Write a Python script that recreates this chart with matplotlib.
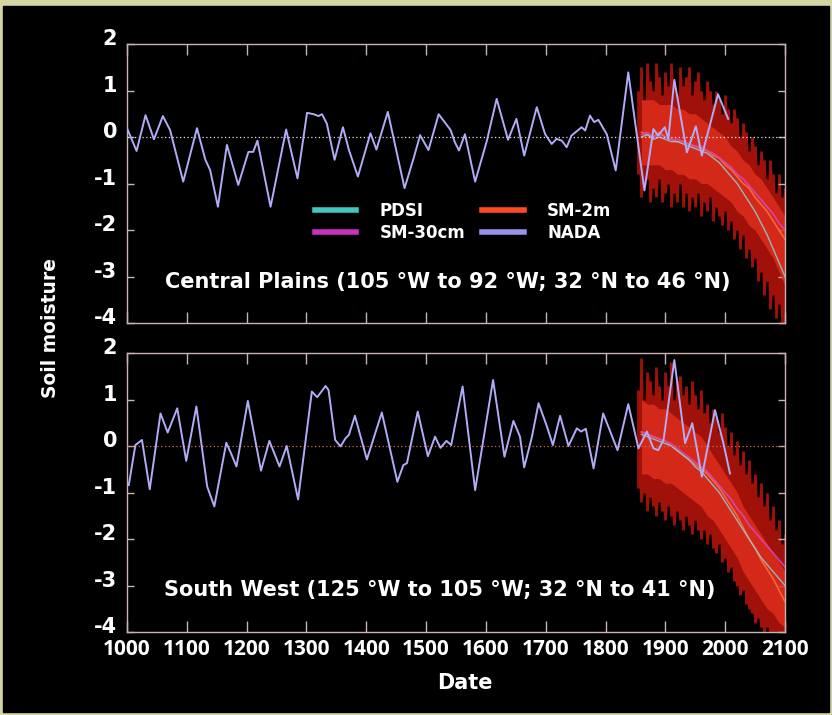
import matplotlib
matplotlib.use("Agg")
import matplotlib.pyplot as plt
from matplotlib.lines import Line2D
from matplotlib.patches import Rectangle
from matplotlib.transforms import ScaledTranslation

plt.rcParams["axes.unicode_minus"] = False

# ---- NADA tree-ring reconstruction, Central Plains ----
cp_nada_years = [1000, 1016, 1031, 1045, 1060, 1072, 1094, 1117, 1131, 1139,
                 1152, 1167, 1186, 1203, 1211, 1218, 1240, 1266, 1285, 1301,
                 1312, 1320, 1326, 1334, 1347, 1361, 1371, 1386, 1407, 1417,
                 1436, 1464, 1480, 1490, 1504, 1521, 1541, 1548, 1555, 1565,
                 1582, 1601, 1618, 1637, 1651, 1664, 1685, 1699, 1710, 1718,
                 1727, 1735, 1743, 1760, 1766, 1774, 1781, 1788, 1802, 1817,
                 1838, 1865, 1880, 1888, 1899, 1905, 1915, 1936, 1951, 1961,
                 1988, 2005]
cp_nada = [0.19, -0.30, 0.47, -0.05, 0.45, 0.15, -0.96, 0.19, -0.49, -0.71,
           -1.50, -0.17, -1.03, -0.32, -0.32, -0.08, -1.50, 0.16, -0.89, 0.52,
           0.49, 0.45, 0.49, 0.29, -0.49, 0.21, -0.28, -0.85, 0.08, -0.27,
           0.54, -1.10, -0.42, 0.04, -0.28, 0.49, 0.15, -0.11, -0.29, 0.06,
           -0.96, -0.11, 0.82, -0.06, 0.39, -0.40, 0.64, 0.06, -0.15, -0.04,
           -0.08, -0.22, 0.03, 0.21, 0.14, 0.46, 0.32, 0.37, 0.06, -0.72,
           1.39, -1.15, 0.17, 0.03, 0.21, -0.04, 1.23, -0.33, 0.23, -0.40,
           0.92, 0.39]

# ---- NADA, South West ----
sw_nada_years = [1003, 1014, 1025, 1038, 1056, 1068, 1084, 1099, 1116, 1134,
                 1146, 1166, 1174, 1183, 1202, 1224, 1238, 1255, 1267, 1286,
                 1309, 1318, 1332, 1337, 1348, 1357, 1365, 1371, 1381, 1401,
                 1426, 1452, 1462, 1468, 1486, 1503, 1515, 1524, 1534, 1542,
                 1548, 1561, 1582, 1612, 1631, 1646, 1657, 1664, 1677, 1688,
                 1702, 1712, 1724, 1738, 1752, 1759, 1767, 1780, 1796, 1820,
                 1838, 1855, 1869, 1880, 1888, 1897, 1915, 1933, 1945, 1961,
                 1983, 1997, 2008]
sw_nada = [-0.84, 0.02, 0.13, -0.93, 0.70, 0.29, 0.81, -0.32, 0.85, -0.87,
           -1.30, 0.07, -0.16, -0.44, 0.97, -0.53, 0.11, -0.44, 0.0, -1.15,
           1.17, 1.05, 1.29, 1.20, 0.13, -0.01, 0.16, 0.24, 0.65, -0.29,
           0.72, -0.77, -0.41, -0.37, 0.74, -0.22, 0.20, -0.04, 0.11, 0.02,
           0.42, 1.28, -0.95, 1.42, -0.23, 0.54, 0.20, -0.46, 0.20, 0.92,
           0.42, 0.02, 0.65, 0.0, 0.38, 0.31, 0.37, -0.48, 0.70, -0.09,
           0.90, -0.05, 0.31, -0.05, -0.09, 0.13, 1.85, 0.06, 0.49, -0.66,
           0.77, 0.06, -0.59]

# ---- model ensemble spread (SM-2m), 5-year steps 1855-2100 ----
model_years = list(range(1855, 2101, 5))
cp_spread_hi = [1.0, 1.5, 0.8, 1.6, 1.2, 1.0, 1.6, 1.3, 0.9, 1.4,
                1.1, 1.6, 1.2, 0.9, 1.5, 1.1, 1.3, 1.5, 0.9, 1.2,
                1.4, 1.0, 0.8, 1.2, 1.0, 0.7, 1.0, 0.8, 0.5, 0.9,
                0.6, 0.3, 0.6, 0.4, 0.0, 0.3, 0.1, -0.3, 0.0, -0.2,
                -0.6, -0.3, -0.5, -0.9, -0.5, -0.8, -1.2, -0.8, -1.3, -1.1]
cp_spread_lo = [-0.8, -1.3, -1.0, -0.9, -1.4, -1.1, -1.3, -0.9, -1.4, -1.2,
                -1.0, -1.5, -1.2, -1.4, -1.0, -1.5, -1.2, -1.6, -1.3, -1.5,
                -1.2, -1.7, -1.4, -1.6, -1.3, -1.8, -1.5, -1.7, -1.9, -1.6,
                -2.0, -1.8, -2.2, -2.0, -2.4, -2.1, -2.6, -2.4, -2.8, -2.6,
                -3.1, -2.9, -3.4, -3.1, -3.7, -3.4, -3.9, -3.6, -4.0, -4.0]
sw_spread_hi = [1.2, 1.9, 1.0, 1.6, 1.4, 1.1, 1.7, 1.3, 1.0, 1.6,
                1.3, 1.8, 1.0, 1.4, 1.5, 1.1, 1.3, 0.9, 1.4, 1.1,
                0.8, 1.2, 0.7, 0.9, 0.5, 0.8, 0.6, 0.3, 0.7, 0.4,
                0.0, 0.3, -0.2, 0.1, -0.4, -0.1, -0.6, -0.3, -0.8, -0.6,
                -1.1, -0.8, -1.3, -1.0, -1.6, -1.3, -1.8, -1.6, -2.1, -1.9]
sw_spread_lo = [-0.9, -1.2, -1.0, -1.4, -1.1, -1.3, -1.5, -1.2, -1.4, -1.6,
                -1.3, -1.5, -1.7, -1.4, -1.6, -1.8, -1.5, -1.7, -1.9, -1.6,
                -1.8, -2.0, -1.8, -2.1, -1.9, -2.2, -2.3, -2.1, -2.5, -2.4,
                -2.7, -2.6, -2.9, -3.0, -3.2, -3.1, -3.4, -3.5, -3.6, -3.8,
                -3.7, -3.9, -4.0, -3.9, -4.0, -4.0, -4.0, -4.0, -4.0, -4.0]

# ---- ensemble core and means, 10-year steps 1860-2100 ----
core_years = list(range(1860, 2101, 10))
cp_core_hi = [0.8, 0.8, 0.8, 0.7, 0.7, 0.7, 0.6, 0.6, 0.5, 0.5, 0.4, 0.3, 0.2,
              0.1, 0.0, -0.2, -0.3, -0.5, -0.6, -0.8, -0.9, -1.1, -1.3, -1.5, -1.7]
cp_core_lo = [-0.6, -0.6, -0.6, -0.6, -0.7, -0.7, -0.8, -0.8, -0.9, -0.9, -1.0, -1.0, -1.1,
              -1.2, -1.3, -1.4, -1.6, -1.7, -1.9, -2.0, -2.2, -2.4, -2.6, -2.9, -3.2]
cp_sm2m = [0.1, 0.05, 0.0, 0.1, 0.0, -0.05, -0.1, -0.1, -0.15, -0.2, -0.25, -0.3, -0.4,
           -0.45, -0.6, -0.7, -0.85, -1.0, -1.1, -1.3, -1.45, -1.6, -1.8, -2.0, -2.2]
cp_sm30 = [0.05, 0.1, 0.0, 0.05, 0.0, -0.05, -0.05, -0.1, -0.15, -0.2, -0.2, -0.3, -0.35,
           -0.45, -0.55, -0.65, -0.8, -0.9, -1.05, -1.2, -1.35, -1.5, -1.65, -1.85, -2.0]
cp_pdsi = [0.0, 0.05, -0.05, 0.0, -0.05, -0.1, -0.1, -0.15, -0.2, -0.25, -0.3, -0.35, -0.45,
           -0.55, -0.7, -0.85, -1.0, -1.2, -1.4, -1.6, -1.85, -2.1, -2.4, -2.7, -3.0]

sw_core_hi = [1.0, 0.9, 0.9, 0.8, 0.8, 0.7, 0.6, 0.5, 0.4, 0.3, 0.2, 0.0, -0.2,
              -0.4, -0.6, -0.8, -1.0, -1.3, -1.5, -1.7, -1.9, -2.1, -2.3, -2.5, -2.7]
sw_core_lo = [-0.6, -0.6, -0.7, -0.7, -0.8, -0.8, -0.9, -1.0, -1.1, -1.2, -1.3, -1.5, -1.6,
              -1.8, -2.0, -2.2, -2.4, -2.7, -2.9, -3.1, -3.3, -3.5, -3.6, -3.8, -3.9]
sw_sm2m = [0.3, 0.25, 0.2, 0.15, 0.1, 0.0, -0.1, -0.2, -0.3, -0.4, -0.5, -0.6, -0.75,
           -0.9, -1.1, -1.3, -1.5, -1.75, -2.0, -2.2, -2.45, -2.65, -2.85, -3.1, -3.35]
sw_sm30 = [0.3, 0.25, 0.2, 0.15, 0.1, 0.05, -0.05, -0.15, -0.25, -0.35, -0.45, -0.55, -0.7,
           -0.85, -1.0, -1.15, -1.35, -1.5, -1.7, -1.85, -2.0, -2.15, -2.3, -2.45, -2.6]
sw_pdsi = [0.25, 0.2, 0.15, 0.1, 0.05, 0.0, -0.1, -0.2, -0.3, -0.45, -0.55, -0.7, -0.85,
           -1.0, -1.2, -1.4, -1.6, -1.8, -2.0, -2.2, -2.4, -2.55, -2.7, -2.85, -3.0]

x_ticks = list(range(1000, 2101, 100))
y_ticks = [-4, -3, -2, -1, 0, 1, 2]
series_names = ["PDSI", "SM-30cm", "SM-2m", "NADA"]
series_colors = ["#40c8c0", "#c830c0", "#ff4a22", "#9a92ea"]

W, H = 832, 715
SPINE = "#c8b2b4"

fig = plt.figure(figsize=(W / 100, H / 100), dpi=100, facecolor="#d5d4a6")
fig.add_artist(Rectangle((3 / W, 3 / H), (W - 6) / W, (H - 9) / H,
                         transform=fig.transFigure, color="black", zorder=-5))


def draw_panel(top_px, nada_years, nada, hi, lo, core_hi, core_lo, sm2m, sm30, pdsi,
               zero_color, show_x):
    ax = fig.add_axes([127 / W, 1 - (top_px + 279) / H, 658 / W, 279 / H])
    ax.set_facecolor("black")
    # ensemble spread: faint band plus vertical streaks, then bright core
    ax.fill_between(model_years, lo, hi, color="#7a0a06", alpha=0.55, lw=0, zorder=1)
    ax.vlines(model_years, lo, hi, color="#c0160c", lw=2.2, alpha=0.75, zorder=1.5)
    ax.fill_between(core_years, core_lo, core_hi, color="#e2301c", alpha=0.8, lw=0, zorder=2)
    ax.plot(core_years, sm2m, color="#ff7040", lw=1.2, alpha=0.85, zorder=3)
    ax.plot(core_years, sm30, color="#d448c8", lw=1.2, alpha=0.85, zorder=3)
    ax.plot(core_years, pdsi, color="#8ad0d8", lw=1.0, alpha=0.85, zorder=3)
    ax.axhline(0, color=zero_color, ls=(0, (1, 2)), lw=0.9, zorder=4)
    ax.plot(nada_years, nada, color="#b0acf6", lw=1.4, zorder=5,
            solid_joinstyle="round")

    ax.set_xlim(1000, 2100)
    ax.set_ylim(-4, 2)
    ax.set_xticks(x_ticks)
    ax.set_yticks(y_ticks)
    for s in ax.spines.values():
        s.set_color(SPINE)
        s.set_linewidth(1.0)
    ax.tick_params(axis="x", direction="in", length=8, width=1, color=SPINE,
                   top=True, bottom=True, labelbottom=show_x, labelcolor="white", pad=5)
    ax.tick_params(axis="y", direction="in", length=5, width=1, color=SPINE,
                   left=True, right=True, labelcolor="white", pad=7)
    for lbl in ax.get_xticklabels():
        lbl.set_fontfamily("Open Sans")
        lbl.set_fontweight("bold")
        lbl.set_fontsize(15)
    shift = ScaledTranslation(0, 5 / 72, fig.dpi_scale_trans)
    for lbl in ax.get_yticklabels():
        lbl.set_fontfamily("DejaVu Sans")
        lbl.set_fontweight("bold")
        lbl.set_fontsize(15)
        lbl.set_transform(lbl.get_transform() + shift)
    return ax


ax1 = draw_panel(44, cp_nada_years, cp_nada, cp_spread_hi, cp_spread_lo, cp_core_hi, cp_core_lo,
                 cp_sm2m, cp_sm30, cp_pdsi, "#e8e6d8", False)
ax2 = draw_panel(353, sw_nada_years, sw_nada, sw_spread_hi, sw_spread_lo, sw_core_hi, sw_core_lo,
                 sw_sm2m, sw_sm30, sw_pdsi, "#c87050", True)

handles = [Line2D([], [], color=c, lw=4) for c in series_colors]
ax1.legend(handles, series_names, ncol=2, loc="center", frameon=False,
           bbox_to_anchor=(463 / W, 1 - 222 / H), bbox_transform=fig.transFigure,
           prop={"family": "DejaVu Sans", "weight": "bold", "size": 12},
           labelcolor="white", handlelength=2.5, handletextpad=1.4,
           columnspacing=1.0, labelspacing=0.25, borderpad=0)

fig.text(448 / W, 1 - 282 / H, "Central Plains (105 °W to 92 °W; 32 °N to 46 °N)",
         color="white", fontsize=15, fontweight="bold", ha="center", va="center")
fig.text(440 / W, 1 - 590 / H, "South West (125 °W to 105 °W; 32 °N to 41 °N)",
         color="white", fontsize=15, fontweight="bold", ha="center", va="center")

fig.text(50 / W, 1 - 328 / H, "Soil moisture", color="white", fontsize=13.5,
         fontweight="bold", rotation=90, ha="center", va="center")
fig.text(465 / W, 1 - 683 / H, "Date", color="white", fontsize=15,
         fontweight="bold", ha="center", va="center")

fig.savefig("out.png", dpi=100, facecolor=fig.get_facecolor())
